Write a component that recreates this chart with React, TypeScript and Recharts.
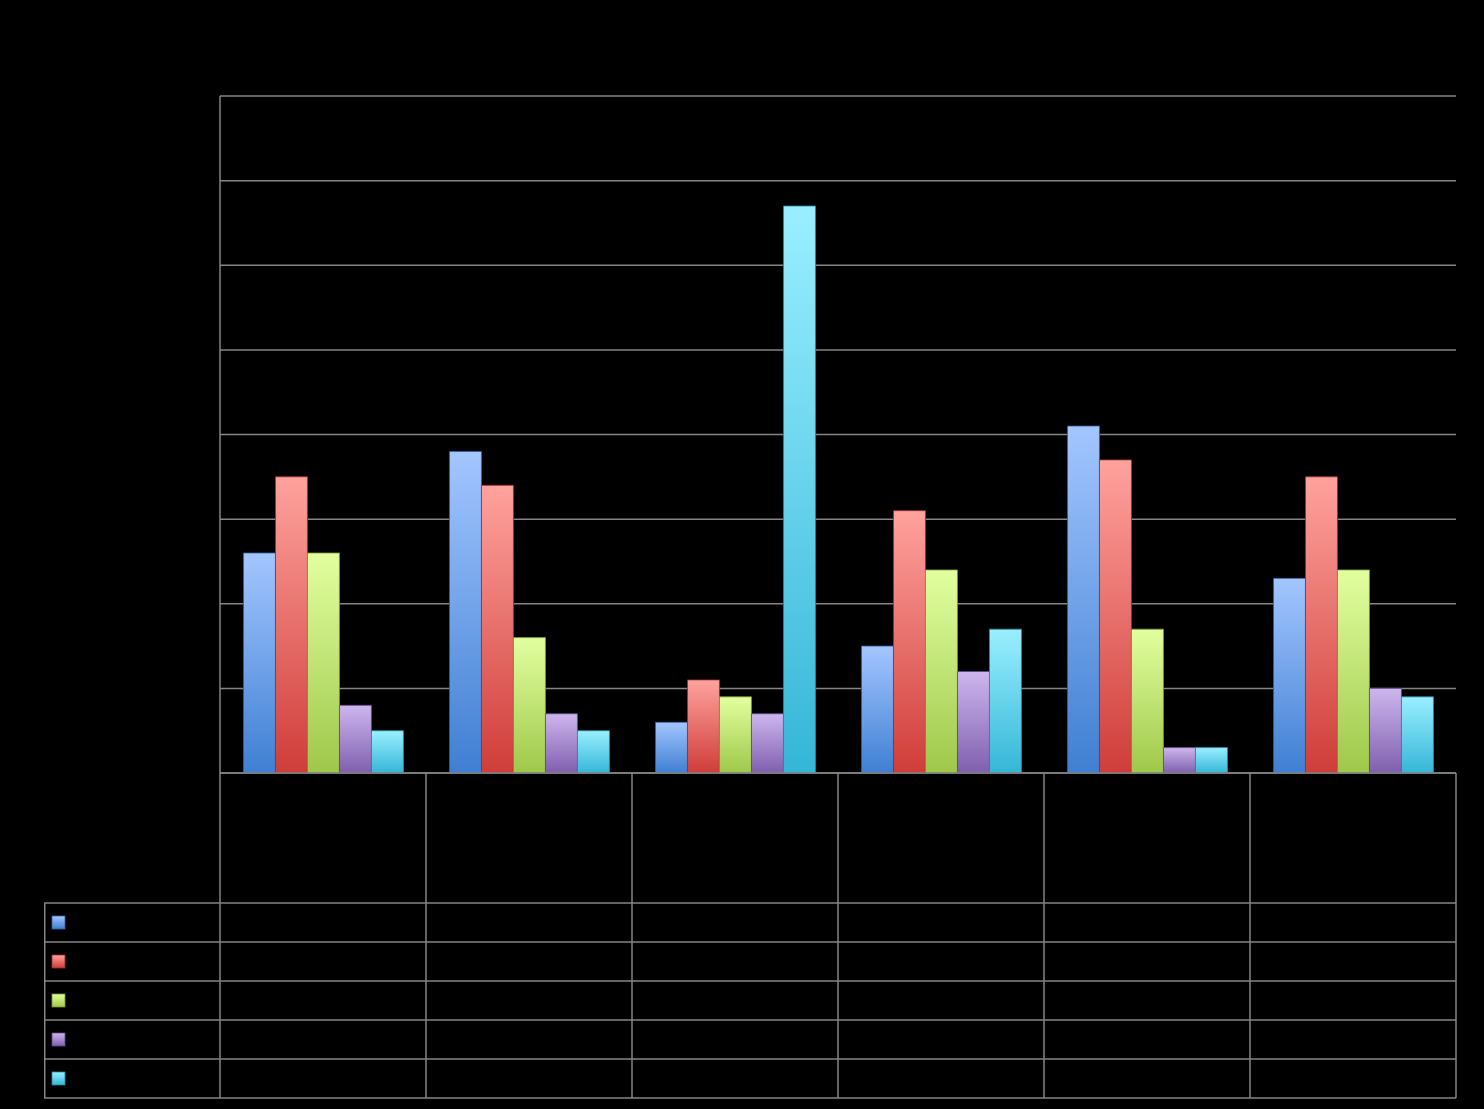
import React from "react";
import { BarChart, Bar, XAxis, YAxis, CartesianGrid, Legend } from "recharts";

// data (scale 0-80, one gridline per 10)
const categories = ["1", "2", "3", "4", "5", "6"];
const seriesNames = ["s1", "s2", "s3", "s4", "s5"];
const s1 = [26, 38, 6, 15, 41, 23];
const s2 = [35, 34, 11, 31, 37, 35];
const s3 = [26, 16, 9, 24, 17, 24];
const s4 = [8, 7, 7, 12, 3, 10];
const s5 = [5, 5, 67, 17, 3, 9];
const yTicks = [0, 10, 20, 30, 40, 50, 60, 70, 80];

const seriesValues = [s1, s2, s3, s4, s5];

// gradient stops (top, bottom, edge)
const COLORS = [
  { top: "#a3c6ff", bottom: "#3f7fd2", edge: "#2f5f9e" },
  { top: "#ffa29d", bottom: "#cf3d39", edge: "#9a2f2c" },
  { top: "#e2ff9f", bottom: "#9ec84a", edge: "#76953a" },
  { top: "#cdb6ee", bottom: "#7f5fae", edge: "#5e4684" },
  { top: "#9aefff", bottom: "#35b6d7", edge: "#2a86a0" },
];

const data = categories.map((c, i) => {
  const row: Record<string, string | number> = { name: c };
  seriesNames.forEach((s, k) => {
    row[s] = seriesValues[k][i];
  });
  return row;
});

const W = 1484;
const H = 1109;
const YAXIS_W = 1;
const M = { top: 96, right: 28, bottom: 11, left: 220 - YAXIS_W };
const XAXIS_H = 325;
const PLOT_W = W - 220 - M.right;
const PLOT_BOTTOM = H - M.bottom - XAXIS_H;
const HEADER_H = 130;
const ROW_H = 39;
const LINE = "#858585";
const LINE_W = 1.5;

function TableTick(props: any) {
  const { x, index } = props;
  const bw = PLOT_W / categories.length;
  const left = x - bw / 2;
  const right = x + bw / 2;
  const bottom = PLOT_BOTTOM + HEADER_H + ROW_H * seriesNames.length;
  const rows = seriesNames.map((_, k) => PLOT_BOTTOM + HEADER_H + ROW_H * k);
  return (
    <g>
      <line x1={left} y1={PLOT_BOTTOM} x2={left} y2={bottom} stroke={LINE} strokeWidth={LINE_W} />
      {index === categories.length - 1 && (
        <line x1={right} y1={PLOT_BOTTOM} x2={right} y2={bottom} stroke={LINE} strokeWidth={LINE_W} />
      )}
      {rows.concat([bottom]).map((ry, k) => (
        <line key={k} x1={left} y1={ry} x2={right} y2={ry} stroke={LINE} strokeWidth={LINE_W} />
      ))}
    </g>
  );
}

function TableLegend() {
  const w = 176;
  const h = ROW_H * seriesNames.length;
  return (
    <svg width={w + 2} height={h + 2} style={{ display: "block", overflow: "visible" }}>
      <defs>
        {COLORS.map((c, i) => (
          <linearGradient key={i} id={`lg${i}`} x1="0" y1="0" x2="0" y2="1">
            <stop offset="0%" stopColor={c.top} />
            <stop offset="100%" stopColor={c.bottom} />
          </linearGradient>
        ))}
      </defs>
      <line x1={0.75} y1={0} x2={0.75} y2={h} stroke={LINE} strokeWidth={LINE_W} />
      {seriesNames.map((s, k) => (
        <g key={s}>
          <line x1={0} y1={k * ROW_H} x2={w} y2={k * ROW_H} stroke={LINE} strokeWidth={LINE_W} />
          <rect
            x={8}
            y={k * ROW_H + 13}
            width={13}
            height={13}
            fill={`url(#lg${k})`}
            stroke={COLORS[k].edge}
            strokeWidth={0.8}
          />
        </g>
      ))}
      <line x1={0} y1={h} x2={w} y2={h} stroke={LINE} strokeWidth={LINE_W} />
    </svg>
  );
}

const EmptyTick = () => <g />;

export default function App() {
  return (
    <div style={{ position: "absolute", left: 0, top: 0, width: W, height: H, background: "#000" }}>
      <BarChart
        width={W}
        height={H}
        data={data}
        margin={M}
        barCategoryGap="11.4%"
        barGap={0}
      >
        <defs>
          {COLORS.map((c, i) => (
            <linearGradient key={i} id={`bg${i}`} x1="0" y1="0" x2="0" y2="1">
              <stop offset="0%" stopColor={c.top} />
              <stop offset="100%" stopColor={c.bottom} />
            </linearGradient>
          ))}
        </defs>
        <CartesianGrid vertical={false} stroke={LINE} strokeWidth={LINE_W} />
        <XAxis
          dataKey="name"
          height={XAXIS_H}
          interval={0}
          tickLine={false}
          axisLine={{ stroke: LINE, strokeWidth: LINE_W }}
          tick={<TableTick />}
        />
        <YAxis
          width={YAXIS_W}
          domain={[0, 80]}
          ticks={yTicks}
          interval={0}
          tick={<EmptyTick />}
          tickLine={false}
          axisLine={{ stroke: LINE, strokeWidth: LINE_W }}
        />
        <Legend
          layout="vertical"
          align="center"
          verticalAlign="middle"
          wrapperStyle={{ left: 44, top: PLOT_BOTTOM + HEADER_H, width: 180 }}
          content={<TableLegend />}
        />
        {seriesNames.map((s, k) => (
          <Bar
            key={s}
            dataKey={s}
            fill={`url(#bg${k})`}
            stroke={COLORS[k].edge}
            strokeWidth={0.8}
            isAnimationActive={false}
          />
        ))}
      </BarChart>
    </div>
  );
}
